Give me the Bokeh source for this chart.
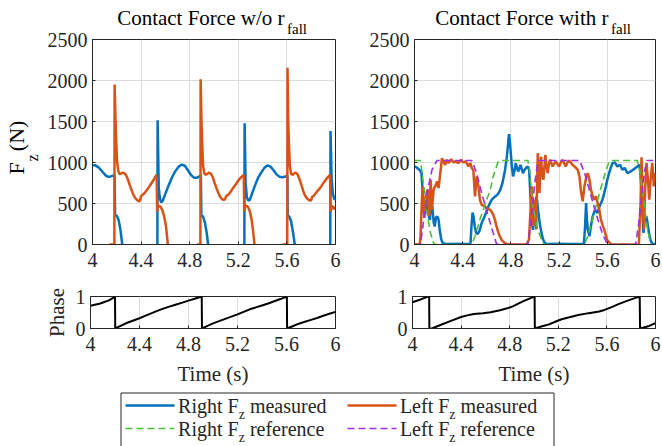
from bokeh.plotting import figure
from bokeh.models import Range1d, FixedTicker, Title, Spacer, BoxAnnotation, LinearAxis
from bokeh.layouts import row, column
from bokeh.embed import file_html
from bokeh.resources import INLINE
from bokeh.core.properties import value

nan = float("nan")
NB = "\u00a0"

# ---------------- data ----------------
x_ticks = [4, 4.4, 4.8, 5.2, 5.6, 6]
x_tick_labels = ["4", "4.4", "4.8", "5.2", "5.6", "6"]
force_ticks = [0, 500, 1000, 1500, 2000, 2500]
force_tick_labels = ["0", "500", "1000", "1500", "2000", "2500"]
phase_ticks = [0, 1]
phase_tick_labels = ["0", "1"]

titles = ["Contact Force w/o r", "Contact Force with r"]
title_sub = "fall"
ylabel_main = "F" + NB * 2 + "(N)" + NB * 2
ylabel_sub = "z" + NB * 8
legend_heads = ["Right F", "Left F", "Right F", "Left F"]
legend_tails = ["measured", "measured", "reference", "reference"]

# Contact force without r_fall: right leg (measured)
wo_t_right = [4.0, 4.02, 4.05, 4.08, 4.11, 4.13, 4.15, 4.17, 4.182, 4.186, 4.2, 4.215, 4.23, 4.245, nan,
              4.534, 4.536, 4.545, 4.555, 4.565, 4.575, 4.6, 4.626, 4.655, 4.68, 4.71, 4.735, 4.76, 4.785,
              4.81, 4.835, 4.86, 4.885, 4.892, 4.896, 4.91, 4.925, 4.94, 4.952, nan,
              5.250, 5.252, 5.26, 5.27, 5.282, 5.295, 5.315, 5.34, 5.365, 5.39, 5.415, 5.44, 5.465, 5.49,
              5.515, 5.54, 5.565, 5.59, 5.603, 5.607, 5.62, 5.635, 5.65, 5.665, nan,
              5.957, 5.959, 5.968, 5.978, 5.99, 6.0]
wo_f_right = [965, 968, 940, 890, 840, 825, 830, 840, 845, 360, 350, 300, 180, 0, nan,
              0, 1515, 700, 560, 515, 525, 620, 720, 820, 890, 950, 975, 960, 905,
              850, 815, 815, 835, 845, 355, 340, 270, 140, 0, nan,
              0, 1478, 750, 580, 535, 545, 630, 730, 820, 880, 935, 965, 950, 905,
              855, 825, 820, 830, 840, 355, 340, 280, 150, 0, nan,
              0, 1385, 800, 620, 550, 560]

# Contact force without r_fall: left leg (measured)
wo_t_left = [4.14, 4.18, 4.182, 4.19, 4.196, 4.203, 4.212, 4.222, 4.235, 4.25, 4.262, 4.275, 4.29, 4.305,
             4.32, 4.335, 4.35, 4.365, 4.38, 4.39, 4.395, 4.4, 4.42, 4.44, 4.46, 4.48, 4.5, 4.515, 4.528,
             4.532, 4.537, 4.55, 4.562, 4.575, 4.59, 4.605, 4.62, nan,
             4.86, 4.888, 4.89, 4.897, 4.903, 4.91, 4.92, 4.93, 4.945, 4.96, 4.975, 4.99, 5.005, 5.02,
             5.035, 5.05, 5.065, 5.08, 5.09, 5.1, 5.12, 5.14, 5.16, 5.18, 5.2, 5.22, 5.245, 5.249, 5.254,
             5.27, 5.283, 5.296, 5.31, 5.322, 5.333, nan,
             5.565, 5.603, 5.605, 5.611, 5.617, 5.624, 5.635, 5.648, 5.662, 5.675, 5.69, 5.705, 5.72,
             5.735, 5.75, 5.77, 5.79, 5.8, 5.808, 5.825, 5.845, 5.865, 5.885, 5.905, 5.925, 5.945, 5.955,
             5.959, 5.965, 5.975, 5.985, 5.993, 6.0]
wo_f_left = [0, 0, 1951, 1500, 1230, 1000, 900, 860, 865, 875, 870, 850, 800, 730,
             670, 610, 570, 545, 528, 530, 560, 590, 615, 650, 690, 735, 780, 820, 850,
             400, 470, 470, 455, 420, 340, 220, 0, nan,
             0, 0, 2016, 1500, 1235, 960, 870, 850, 860, 880, 860, 820, 750, 690,
             630, 580, 555, 545, 550, 590, 610, 650, 695, 735, 780, 815, 850, 400, 470,
             470, 450, 400, 300, 160, 0, nan,
             0, 0, 2154, 1500, 1235, 960, 860, 850, 870, 875, 850, 790, 720,
             650, 595, 555, 535, 540, 580, 600, 640, 675, 715, 760, 800, 835, 850,
             400, 460, 470, 430, 455, 450]

# Contact force with r_fall: right leg (measured)
w_t_right = [4.0, 4.02, 4.045, 4.058, 4.065, 4.072, 4.078, 4.085, 4.093, 4.1,
             4.108, 4.118, 4.128, 4.136, 4.148, 4.16, 4.168, 4.178, 4.19, 4.2,
             4.21, 4.222, 4.235, 4.26, 4.3, 4.35, 4.4, 4.455, 4.465, 4.473,
             4.482, 4.49, 4.5, 4.512, 4.525, 4.54, 4.557, 4.575, 4.595, 4.615,
             4.64, 4.665, 4.69, 4.71, 4.73, 4.75, 4.765, 4.775, 4.784, 4.792,
             4.8, 4.808, 4.818, 4.83, 4.84, 4.85, 4.86, 4.87, 4.88, 4.89,
             4.9, 4.91, 4.92, 4.93, 4.942, 4.952, 4.96, 4.968, 4.976, 4.983,
             4.992, 5.0, 5.01, 5.018, 5.027, 5.037, 5.05, 5.065, 5.08, 5.1,
             5.2, 5.3, 5.405, 5.415, 5.424, 5.431, 5.438, 5.452, 5.465, 5.479,
             5.498, 5.51, 5.52, 5.53, 5.541, 5.56, 5.575, 5.588, 5.6, 5.615,
             5.63, 5.643, 5.662, 5.673, 5.684, 5.695, 5.706, 5.716, 5.725, 5.735,
             5.745, 5.756, 5.767, 5.78, 5.794, 5.808, 5.822, 5.835, 5.849, 5.86,
             5.868, 5.875, 5.882, 5.89, 5.9, 5.905, 5.91, 5.917, 5.924, 5.93,
             5.938, 5.947, 5.957, 5.97, 5.98, 6.0]
w_f_right = [955, 935, 905, 870, 700, 520, 360, 460, 380, 600,
             560, 350, 300, 480, 460, 260, 220, 330, 340, 300,
             170, 60, 15, 10, 5, 10, 5, 5, 20, 230,
             390, 340, 220, 140, 130, 170, 260, 320, 390, 470,
             545, 580, 610, 660, 750, 900, 1050, 1200, 1345, 1250,
             1100, 950, 830, 900, 990, 940, 890, 930, 970, 920,
             870, 900, 925, 940, 950, 900, 650, 450, 250, 180,
             300, 420, 580, 530, 400, 280, 170, 70, 20, 5,
             8, 5, 5, 200, 506, 300, 182, 101, 230, 344,
             425, 400, 385, 440, 486, 547, 630, 709, 790, 871,
             940, 992, 1000, 975, 952, 965, 972, 940, 911, 925,
             931, 900, 871, 880, 891, 905, 919, 935, 952, 965,
             972, 850, 709, 420, 142, 220, 304, 330, 344, 300,
             223, 130, 61, 15, 5, 5]

# Contact force with r_fall: left leg (measured)
w_t_left = [4.0, 4.044, 4.05, 4.055, 4.062, 4.069, 4.076, 4.082, 4.089, 4.096,
            4.103, 4.11, 4.117, 4.123, 4.129, 4.134, 4.14, 4.145, 4.152, 4.159,
            4.166, 4.173, 4.18, 4.187, 4.194, 4.2, 4.207, 4.214, 4.221, 4.228,
            4.235, 4.241, 4.248, 4.255, 4.262, 4.269, 4.276, 4.283, 4.294, 4.305,
            4.314, 4.324, 4.333, 4.343, 4.354, 4.365, 4.376, 4.387, 4.396, 4.406,
            4.415, 4.425, 4.436, 4.447, 4.455, 4.464, 4.47, 4.475, 4.482, 4.488,
            4.495, 4.502, 4.509, 4.516, 4.523, 4.53, 4.537, 4.543, 4.55, 4.557,
            4.57, 4.584, 4.6, 4.626, 4.64, 4.653, 4.668, 4.68, 4.695, 4.708,
            4.725, 4.749, 4.77, 4.79, 4.93, 4.95, 4.96, 4.973, 4.982, 4.995,
            5.01, 5.023, 5.037, 5.05, 5.06, 5.07, 5.086, 5.095, 5.105, 5.115,
            5.124, 5.135, 5.146, 5.16, 5.174, 5.187, 5.2, 5.214, 5.228, 5.242,
            5.255, 5.27, 5.283, 5.297, 5.31, 5.328, 5.355, 5.369, 5.383, 5.396,
            5.41, 5.424, 5.438, 5.452, 5.465, 5.479, 5.493, 5.506, 5.52, 5.534,
            5.547, 5.56, 5.575, 5.597, 5.624, 5.64, 5.862, 5.876, 5.884, 5.893,
            5.904, 5.915, 5.926, 5.937, 5.948, 5.959, 5.973, 5.986, 6.0]
w_f_left = [0, 0, 100, 304, 560, 709, 500, 324, 450, 587,
            640, 668, 500, 344, 560, 790, 600, 425, 560, 668,
            700, 709, 740, 770, 730, 689, 780, 871, 960, 1053,
            1030, 1012, 990, 972, 1005, 1033, 1010, 992, 1020, 1041,
            1020, 1000, 1008, 1012, 1000, 992, 1015, 1033, 1015, 1000,
            1008, 1012, 985, 952, 975, 992, 960, 931, 920, 911,
            750, 587, 710, 830, 770, 709, 620, 547, 515, 486,
            475, 466, 440, 425, 400, 365, 300, 223, 150, 101,
            50, 20, 5, 0, 0, 61, 344, 709, 223, 547,
            182, 1114, 628, 1073, 850, 790, 1094, 950, 871, 980,
            1033, 990, 952, 990, 1012, 980, 952, 1000, 1033, 990,
            952, 1000, 1025, 1000, 972, 952, 911, 830, 628, 527,
            709, 810, 871, 790, 668, 587, 547, 587, 506, 425,
            304, 240, 182, 61, 12, 0, 0, 506, 1065, 506,
            182, 709, 992, 790, 547, 790, 992, 709, 871]

# Contact force with r_fall: references
w_t_right_ref = [4.0, 4.05, 4.077, 4.104, 4.132, 4.16, 4.18, 4.475, 4.502, 4.543, 4.598, 4.626, 4.653,
                 4.694, 4.71, 4.941, 4.955, 4.982, 5.023, 5.064, 5.08, 5.41, 5.438, 5.48, 5.53, 5.58,
                 5.615, 5.63, 5.849, 5.87, 5.9, 5.93, 5.959, 5.97, 6.0]
w_f_right_ref = [1025, 1025, 709, 385, 142, 10, 0, 0, 101, 304, 547, 648, 830,
                 1012, 1025, 1025, 911, 466, 182, 20, 0, 0, 101, 320, 600, 860,
                 1012, 1025, 1025, 900, 560, 220, 10, 0, 0]
w_t_left_ref = [4.0, 4.05, 4.077, 4.104, 4.145, 4.187, 4.475, 4.516, 4.557, 4.612, 4.653, 4.68, 4.7,
                4.941, 4.968, 4.995, 5.023, 5.035, 5.369, 5.41, 5.46, 5.51, 5.56, 5.6, 5.62, 5.835,
                5.86, 5.885, 5.91, 5.931, 6.0]
w_f_left_ref = [0, 0, 304, 628, 911, 1025, 1025, 871, 628, 344, 142, 10, 0,
                0, 304, 709, 1012, 1025, 1025, 880, 620, 360, 130, 5, 0, 0,
                250, 600, 900, 1025, 1025]

# Phase
wo_t_phase = [4.0, 4.08, 4.15, 4.2, 4.202, 4.25, 4.3, 4.35, 4.4, 4.45, 4.5, 4.55, 4.6, 4.65, 4.7,
              4.75, 4.8, 4.85, 4.908, 4.91, 4.96, 5.0, 5.05, 5.1, 5.15, 5.2, 5.25, 5.3, 5.35, 5.4,
              5.45, 5.5, 5.55, 5.603, 5.605, 5.65, 5.7, 5.75, 5.8, 5.85, 5.9, 5.95, 6.0]
wo_phase = [0.71, 0.78, 0.88, 0.99, 0.0, 0.09, 0.18, 0.25, 0.32, 0.4, 0.48, 0.56, 0.63, 0.69, 0.75,
            0.81, 0.87, 0.93, 1.0, 0.0, 0.09, 0.16, 0.23, 0.3, 0.37, 0.44, 0.52, 0.6, 0.66, 0.72,
            0.78, 0.85, 0.92, 1.0, 0.0, 0.07, 0.15, 0.21, 0.27, 0.33, 0.4, 0.46, 0.52]
w_t_phase = [4.0, 4.06, 4.127, 4.137, 4.139, 4.16, 4.23, 4.316, 4.4, 4.45, 4.505, 4.58, 4.643,
             4.72, 4.78, 4.83, 4.883, 4.94, 4.993, 5.005, 5.007, 5.06, 5.124, 5.18, 5.227, 5.3,
             5.364, 5.45, 5.536, 5.58, 5.639, 5.7, 5.777, 5.83, 5.87, 5.873, 5.948, 6.0]
w_phase = [0.82, 0.9, 1.0, 1.0, 0.0, 0.0, 0.11, 0.24, 0.36, 0.41, 0.45, 0.48, 0.51,
           0.57, 0.63, 0.7, 0.8, 0.9, 0.98, 1.0, 0.0, 0.06, 0.13, 0.22, 0.29, 0.36,
           0.42, 0.48, 0.53, 0.58, 0.67, 0.77, 0.88, 0.95, 1.0, 0.0, 0.08, 0.17]

for a, b in [(wo_t_right, wo_f_right), (wo_t_left, wo_f_left), (w_t_right, w_f_right),
             (w_t_left, w_f_left), (w_t_right_ref, w_f_right_ref), (w_t_left_ref, w_f_left_ref),
             (wo_t_phase, wo_phase), (w_t_phase, w_phase)]:
    assert len(a) == len(b), (len(a), len(b))

# ---------------- style ----------------
FONT = "Liberation Serif"
AX = "#262626"
GRID = "#dcdcdc"
BLUE = "#0072BD"
ORANGE = "#D95319"
GREEN = "#4DBE3C"
PURPLE = "#9B30E6"
LW = 2.5
DASH = "7 4"


def base_fig(w, h, left, right, top, bottom, y0, y1, yt, ytl):
    p = figure(width=w, height=h, x_range=Range1d(4, 6), y_range=Range1d(y0, y1),
               output_backend="svg", toolbar_location=None, title_location=None,
               min_border_left=left, min_border_right=right,
               min_border_top=top, min_border_bottom=bottom,
               background_fill_color="white", border_fill_color="white")
    p.outline_line_color = AX
    p.outline_line_width = 1
    p.outline_line_alpha = 1
    p.xaxis.ticker = FixedTicker(ticks=x_ticks)
    p.xaxis.major_label_overrides = dict(zip(x_ticks, x_tick_labels))
    p.yaxis.ticker = FixedTicker(ticks=yt)
    p.yaxis.major_label_overrides = dict(zip(yt, ytl))
    for ax in (p.xaxis[0], p.yaxis[0]):
        ax.axis_line_color = AX
        ax.major_tick_line_color = AX
        ax.major_tick_in = 3
        ax.major_tick_out = 0
        ax.minor_tick_line_color = None
        ax.major_label_text_font = FONT
        ax.major_label_text_font_size = "20px"
        ax.major_label_text_color = AX
        ax.axis_label_text_font = FONT
        ax.axis_label_text_font_size = "21px"
        ax.axis_label_text_font_style = "normal"
        ax.axis_label_text_color = AX
    p.xaxis.major_label_standoff = 8
    p.yaxis.major_label_standoff = 5
    p.xgrid.grid_line_color = GRID
    p.ygrid.grid_line_color = GRID
    return p


def txt(text, size, **kw):
    return Title(text=text, text_font=FONT, text_font_size=size, text_font_style="normal",
                 text_color="black", **kw)


def add_title(p, main, sub, right_off, sub_off):
    # subscript sits next to the frame, main text above it (pulled down with negative standoff)
    p.add_layout(txt(sub, "15px", align="left", offset=sub_off, standoff=6), "above")
    p.add_layout(txt(main, "21px", align="right", offset=right_off, standoff=-28), "above")


def label_axis(text, size, standoff):
    # an axis with no ticks, used only to carry a rotated label piece
    return LinearAxis(ticker=FixedTicker(ticks=[]), axis_line_color=None,
                      major_tick_line_color=None, minor_tick_line_color=None,
                      major_tick_in=0, major_tick_out=0, minor_tick_in=0, minor_tick_out=0,
                      major_label_standoff=0, axis_label=text, axis_label_standoff=standoff,
                      axis_label_text_font=FONT, axis_label_text_font_size=size,
                      axis_label_text_font_style="normal", axis_label_text_color="black")


# top-left: without r_fall
tl = base_fig(366, 274, 90, 31, 39, 30, 0, 2500, force_ticks, force_tick_labels)
tl.line(wo_t_right, wo_f_right, line_color=BLUE, line_width=LW)
tl.line(wo_t_left, wo_f_left, line_color=ORANGE, line_width=LW)
add_title(tl, titles[0], title_sub, 51, 194.5)
# rotated y label "F_z (N)": subscript piece next to the tick labels, main piece pulled over it
tl.add_layout(label_axis(ylabel_sub, "16px", 4), "left")
tl.add_layout(label_axis(ylabel_main, "22px", -8), "left")

# top-right: with r_fall
tr = base_fig(296, 274, 46, 7, 39, 30, 0, 2500, force_ticks, force_tick_labels)
tr.line(w_t_right, w_f_right, line_color=BLUE, line_width=LW)
tr.line(w_t_left, w_f_left, line_color=ORANGE, line_width=LW)
tr.line(w_t_right_ref, w_f_right_ref, line_color=GREEN, line_width=1.6, line_dash=DASH)
tr.line(w_t_left_ref, w_f_left_ref, line_color=PURPLE, line_width=1.6, line_dash=DASH)
add_title(tr, titles[1], title_sub, 47, 196.5)

# bottom: phase
bl = base_fig(366, 114, 90, 31, 22, 56, 0, 1, phase_ticks, phase_tick_labels)
bl.line(wo_t_phase, wo_phase, line_color="black", line_width=2)
bl.yaxis.axis_label = "Phase"
bl.xaxis.axis_label = "Time (s)"
br = base_fig(296, 114, 46, 7, 22, 56, 0, 1, phase_ticks, phase_tick_labels)
br.line(w_t_phase, w_phase, line_color="black", line_width=2)
br.xaxis.axis_label = "Time (s)"
for p in (bl, br):
    p.xaxis.axis_label_standoff = 8
    p.yaxis.axis_label_standoff = 4

# legend
leg = figure(width=436, height=58, x_range=Range1d(0, 436), y_range=Range1d(58, 0),
             output_backend="svg", toolbar_location=None, title_location=None, min_border=0,
             background_fill_color="white", border_fill_color="white")
leg.axis.visible = False
leg.grid.visible = False
leg.outline_line_color = None
leg.add_layout(BoxAnnotation(left=1.5, right=434.5, top=4.5, bottom=90, fill_color=None,
                             line_color=AX, line_alpha=1, line_width=1))
colors = [BLUE, ORANGE, GREEN, PURPLE]
dashes = ["solid", "solid", DASH, DASH]
widths = [LW, LW, 1.6, 1.6]
rows_y = [17, 17, 40, 40]
samp_x0 = [6, 228, 6, 228]
head_x = [58.6, 280.4, 58.6, 280.4]
sub_x = [119.2, 329.8, 119.2, 329.8]
tail_x = [130.4, 341.0, 130.4, 341.0]
for i in range(4):
    leg.line([samp_x0[i], samp_x0[i] + 49], [rows_y[i], rows_y[i]], line_color=colors[i],
             line_width=widths[i], line_dash=dashes[i])
leg.text(x=head_x, y=rows_y, text=legend_heads, text_font=value(FONT), text_font_size=value("20px"),
         text_baseline="middle", text_align="left", text_color=AX)
leg.text(x=sub_x, y=[v + 9 for v in rows_y], text=["z"] * 4, text_font=value(FONT),
         text_font_size=value("14px"), text_baseline="middle", text_align="left", text_color=AX)
leg.text(x=tail_x, y=rows_y, text=legend_tails, text_font=value(FONT), text_font_size=value("20px"),
         text_baseline="middle", text_align="left", text_color=AX)

layout = column(row(tl, tr), row(bl, br), row(Spacer(width=119, height=58), leg))

open("out.html", "w").write(file_html(layout, INLINE))
